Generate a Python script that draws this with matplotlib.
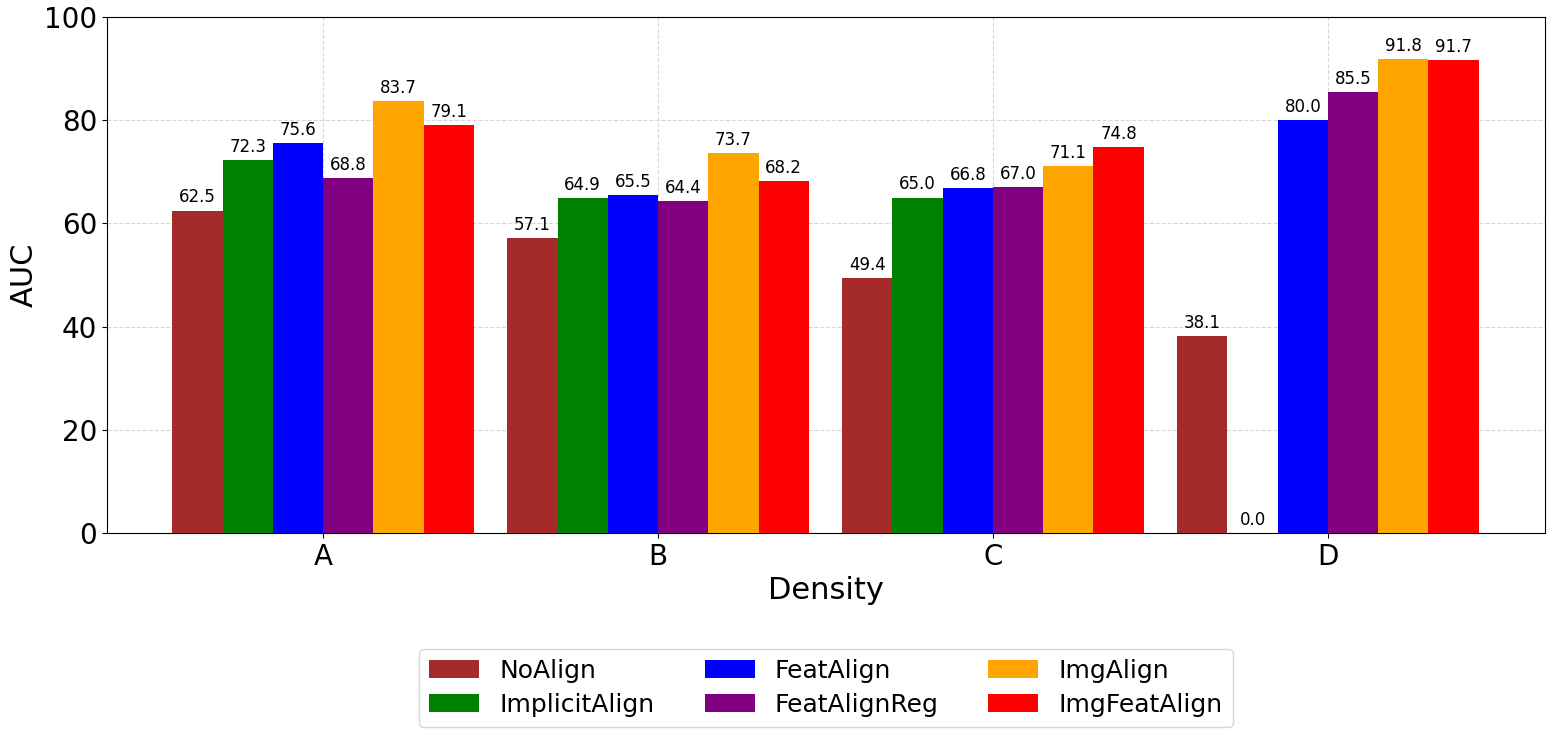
import matplotlib
matplotlib.use("Agg")
import matplotlib.pyplot as plt
import numpy as np

categories = ["A", "B", "C", "D"]
methods = ["NoAlign", "ImplicitAlign", "FeatAlign", "FeatAlignReg", "ImgAlign", "ImgFeatAlign"]
colors = ["brown", "green", "blue", "purple", "orange", "red"]
values = {
    "NoAlign": [62.5, 57.1, 49.4, 38.1],
    "ImplicitAlign": [72.3, 64.9, 65.0, 0.0],
    "FeatAlign": [75.6, 65.5, 66.8, 80.0],
    "FeatAlignReg": [68.8, 64.4, 67.0, 85.5],
    "ImgAlign": [83.7, 73.7, 71.1, 91.8],
    "ImgFeatAlign": [79.1, 68.2, 74.8, 91.7],
}

fig = plt.figure(figsize=(15.57, 7.4), dpi=100)
ax = fig.add_axes([107/1557, 1-533/740, (1545-107)/1557, (533-17)/740])
x = np.arange(len(categories))
w = 0.15
for i, m in enumerate(methods):
    pos = x + (i - 2.5) * w
    bars = ax.bar(pos, values[m], w, color=colors[i], label=m, zorder=3)
    ax.bar_label(bars, labels=[f"{v:.1f}" for v in values[m]], padding=3, fontsize=12, zorder=4)

ax.set_xticks(x)
ax.set_xticklabels(categories, fontsize=20)
ax.tick_params(axis="y", labelsize=20)
ax.set_xlim(-0.645, 3.648)
ax.set_ylim(0, 100)
ax.set_xlabel("Density", fontsize=22)
ax.set_ylabel("AUC", fontsize=22)
ax.grid(True, linestyle="--", color="lightgray", alpha=0.9, zorder=0)
ax.set_axisbelow(True)
ax.legend(loc="upper center", bbox_to_anchor=(0.5, -0.20), ncol=3, fontsize=18,
          labelspacing=0.4)
fig.savefig("out.png", dpi=100)
